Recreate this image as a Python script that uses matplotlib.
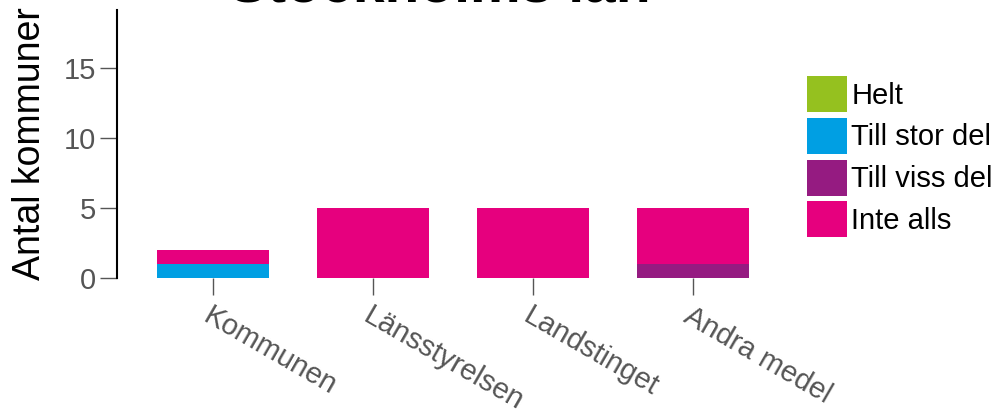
import matplotlib
matplotlib.use("Agg")
import matplotlib.pyplot as plt
import numpy as np

plt.rcParams['font.family'] = ['Liberation Sans', 'DejaVu Sans']

categories = ["Kommunen", "Länsstyrelsen", "Landstinget", "Andra medel"]
series_names = ["Helt", "Till stor del", "Till viss del", "Inte alls"]
helt = [0, 0, 0, 0]
till_stor_del = [1, 0, 0, 0]
till_viss_del = [0, 0, 0, 1]
inte_alls = [1, 5, 5, 4]
colors = ["#95C11F", "#009FE3", "#951B81", "#E6007E"]
yticks = [0, 5, 10, 15]
title = "Stockholms län"
ylabel = "Antal kommuner"

fig = plt.figure(figsize=(9.99, 4.09), dpi=100)
ax = fig.add_axes([117 / 999, 1 - 278 / 409, (789 - 117) / 999, 268 / 409])

x = np.arange(len(categories))
bottom = np.zeros(len(categories))
for name, vals, col in zip(series_names, [helt, till_stor_del, till_viss_del, inte_alls], colors):
    ax.bar(x, vals, width=0.7, bottom=bottom, color=col, label=name, linewidth=0)
    bottom += np.array(vals)

ax.set_xlim(-0.6, 3.6)
ax.set_ylim(0, 19.1)
ax.set_yticks(yticks)
ax.set_xticks(x)
ax.set_xticklabels(categories, rotation=-30, ha='left', va='top',
                   rotation_mode='anchor', fontsize=21, color='#555555')
ax.tick_params(axis='y', labelsize=21, colors='#555555', length=12, width=1,
               direction='out', pad=3)
ax.tick_params(axis='x', length=12, width=1, color='#555555', pad=5)
for t in ax.get_yticklines():
    t.set_color('#333333')

for s in ['top', 'right', 'bottom']:
    ax.spines[s].set_visible(False)
ax.spines['left'].set_linewidth(1.5)
ax.spines['left'].set_color('black')

ax.set_ylabel(ylabel, fontsize=27, color='black', labelpad=11.5)

fig.text(440 / 999, 1 - 2 / 409, title, ha='center', va='baseline',
         fontsize=41, fontweight='bold', color='black')

leg = ax.legend(loc='upper left', bbox_to_anchor=(807 / 999, 1 - 76 / 409),
                bbox_transform=fig.transFigure, frameon=False, fontsize=21,
                handlelength=1.37, handleheight=1.52, handletextpad=0.15,
                labelspacing=0.2, borderpad=0, borderaxespad=0)

fig.savefig("out.png", dpi=100)
